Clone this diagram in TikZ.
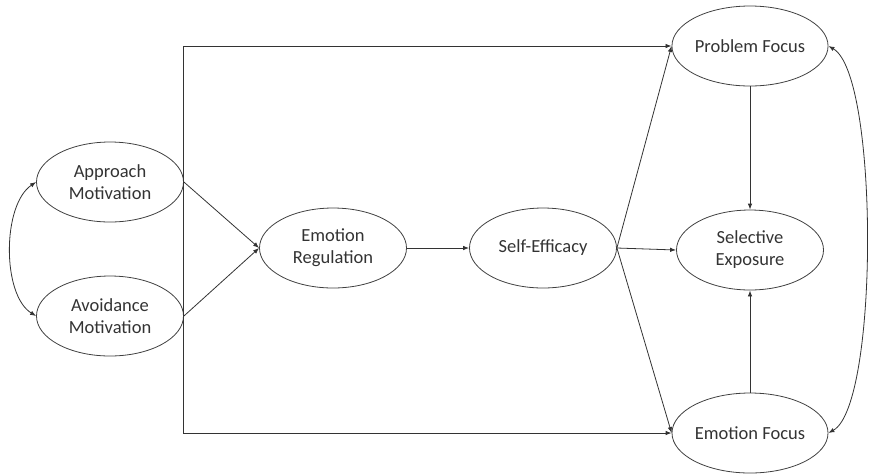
\documentclass[tikz,border=0pt]{standalone}
\usepackage{fontspec}
\setmainfont{Carlito}
\usetikzlibrary{shapes.geometric,arrows.meta}
\begin{document}
\begin{tikzpicture}[x=1pt,y=-1pt,
  var/.style={ellipse,draw=black!75,line width=0.8pt,minimum width=147pt,minimum height=80pt,inner sep=0pt,align=center,font=\fontsize{18.5}{22}\selectfont,text=black!80},
  conn/.style={draw=black!80,line width=0.8pt,-{Latex[length=6pt,width=4.5pt]}},
  line/.style={draw=black!80,line width=0.8pt}]
\useasboundingbox (0,0) rectangle (869,475);
\node[var] (am) at (110,182) {Approach\\Motivation};
\node[var] (av) at (110,316) {Avoidance\\Motivation};
\node[var] (er) at (333,248) {Emotion\\Regulation};
\node[var] (se) at (543,248) {Self-Efficacy};
\node[var] (sx) at (750,250) {Selective\\Exposure};
\node[var] (pf) at (750,46) {Problem Focus};
\node[var] (ef) at (750,433) {Emotion Focus};
\coordinate (top) at (183,46);
\coordinate (bot) at (183,433);
\draw[line] (top) -- (bot);
\draw[conn] (top) -- (pf.west);
\draw[conn] (bot) -- (ef.west);
\draw[conn] (am.east) -- (er.west);
\draw[conn] (av.east) -- (er.west);
\draw[conn] (er.east) -- (se.west);
\draw[conn] (se.east) -- (pf.west);
\draw[conn] (se.east) -- (sx.west);
\draw[conn] (se.east) -- (ef.west);
\draw[conn] (pf.south) -- (sx.north);
\draw[conn] (ef.north) -- (sx.south);
\draw[line,{Latex[length=6pt,width=4.5pt]}-{Latex[length=6pt,width=4.5pt]}] (pf.east) .. controls (879,75) and (879,405) .. (ef.east);
\draw[line,{Latex[length=6pt,width=4.5pt]}-{Latex[length=6pt,width=4.5pt]}] (am.west) .. controls (2,205) and (2,295) .. (av.west);
\end{tikzpicture}
\end{document}
